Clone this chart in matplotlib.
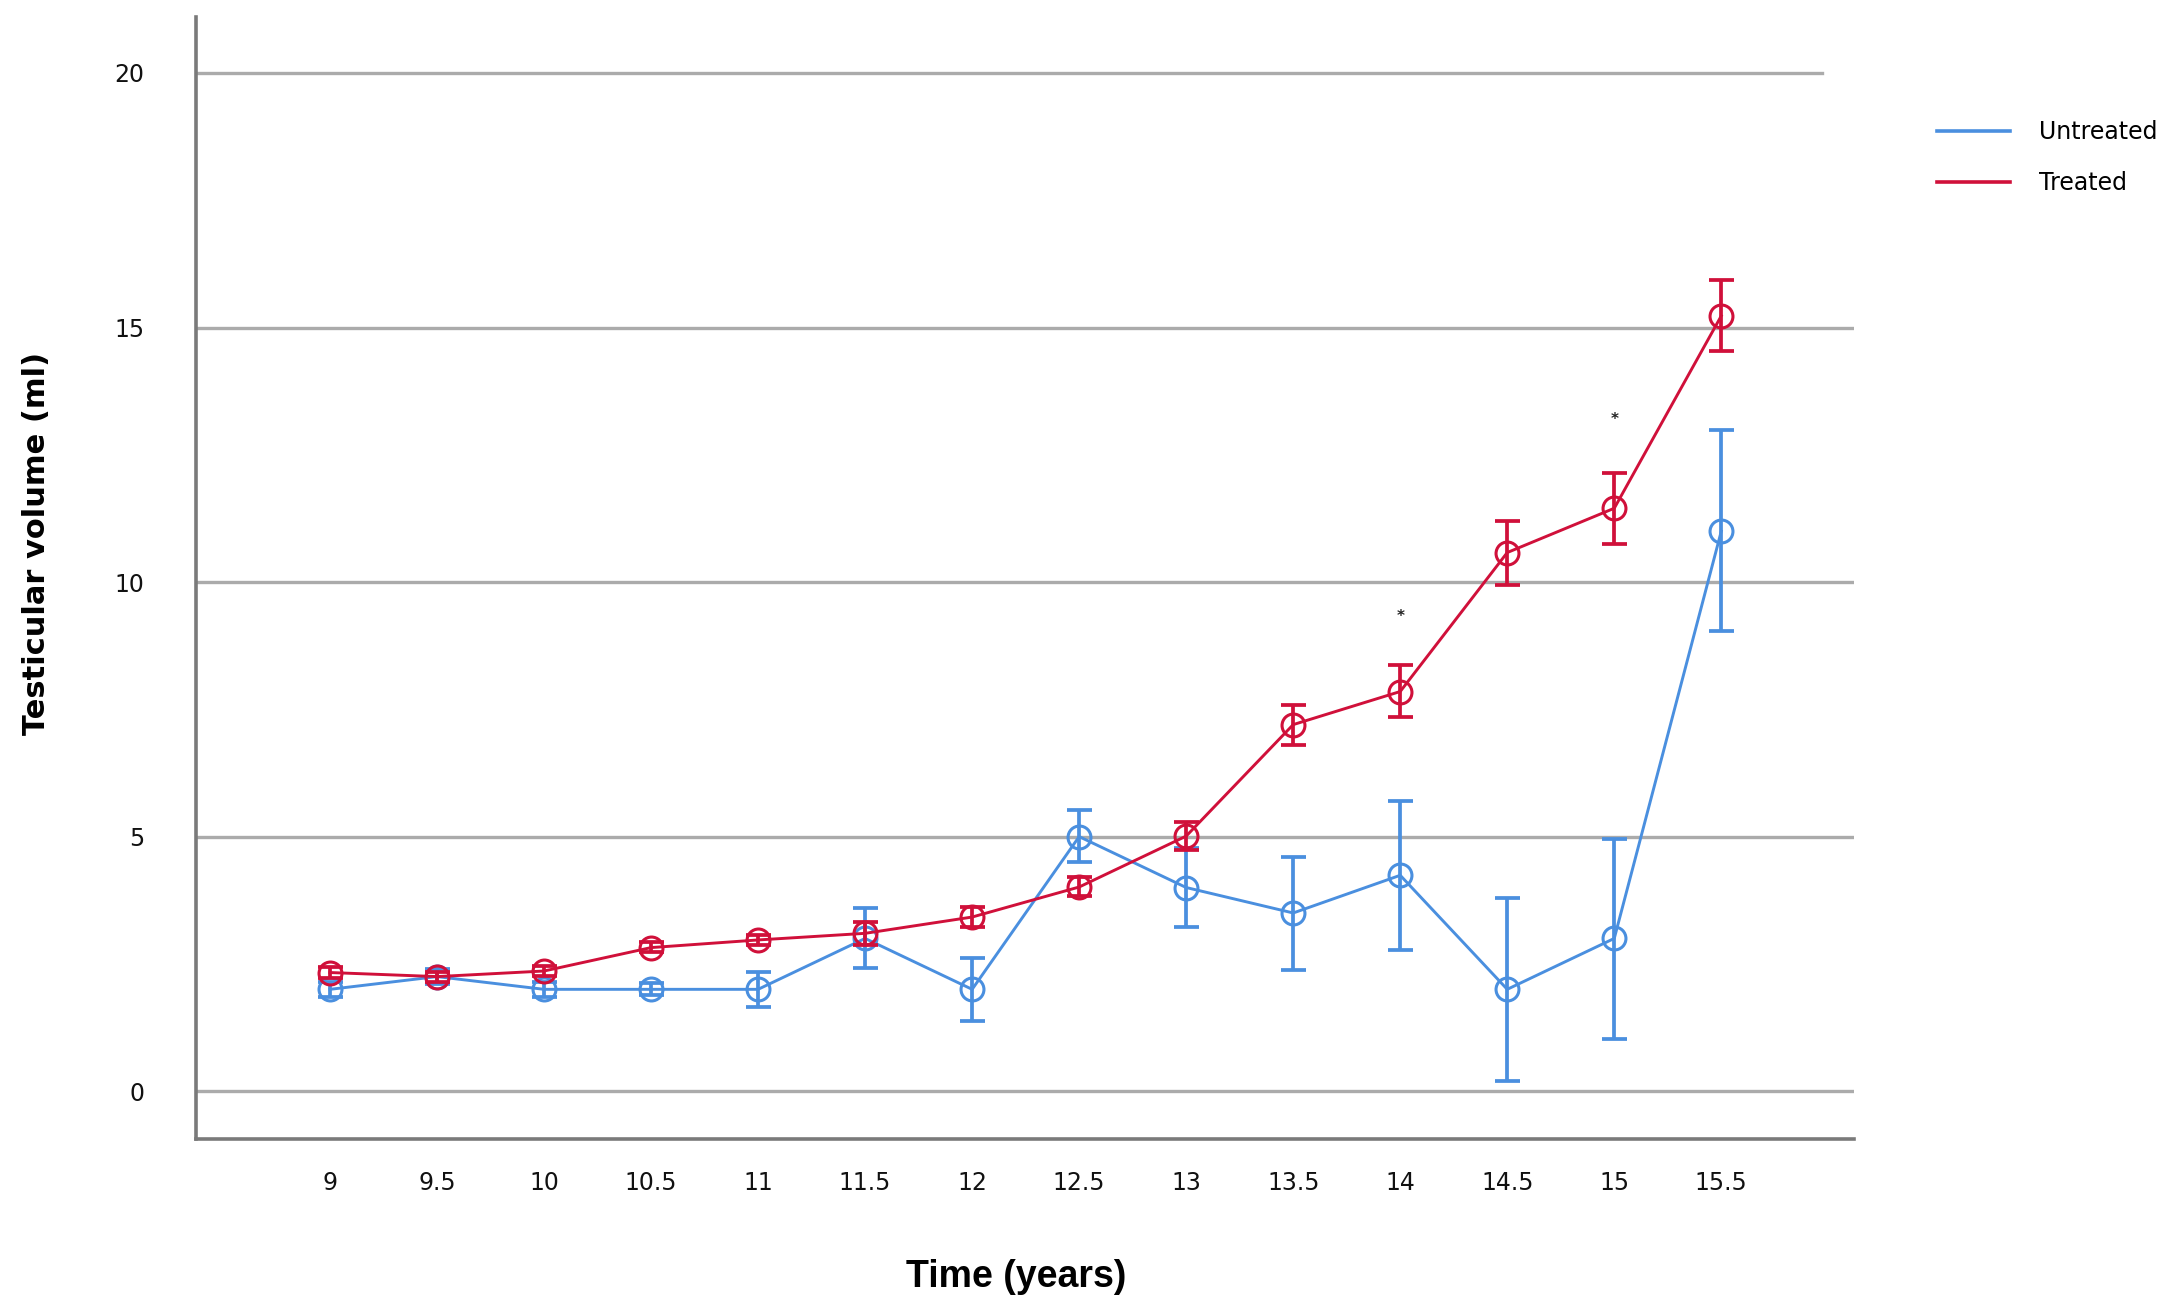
import matplotlib
matplotlib.use("Agg")
import matplotlib.pyplot as plt
from matplotlib.lines import Line2D

# ---- data ----
time_years = [9, 9.5, 10, 10.5, 11, 11.5, 12, 12.5, 13, 13.5, 14, 14.5, 15, 15.5]
tick_labels = ["9", "9.5", "10", "10.5", "11", "11.5", "12", "12.5", "13", "13.5",
               "14", "14.5", "15", "15.5"]

untreated_mean = [2.0, 2.25, 2.0, 2.0, 2.0, 3.0, 2.0, 5.0, 4.0, 3.5, 4.24, 2.0, 3.0, 11.0]
untreated_low = [1.85, 2.1, 1.85, 1.88, 1.65, 2.42, 1.38, 4.5, 3.22, 2.38, 2.78, 0.19, 1.03, 9.03]
untreated_high = [2.15, 2.4, 2.15, 2.12, 2.34, 3.59, 2.61, 5.52, 4.78, 4.6, 5.7, 3.8, 4.96, 12.99]

treated_mean = [2.33, 2.25, 2.36, 2.82, 2.97, 3.10, 3.42, 4.01, 5.01, 7.20, 7.85, 10.58, 11.45, 15.23]
treated_low = [2.23, 2.15, 2.26, 2.74, 2.87, 2.88, 3.23, 3.83, 4.73, 6.80, 7.34, 9.94, 10.75, 14.53]
treated_high = [2.43, 2.35, 2.46, 2.92, 3.07, 3.32, 3.62, 4.20, 5.29, 7.59, 8.37, 11.19, 12.14, 15.94]

star_x = [14, 15]
star_y = [9.32, 13.19]

y_ticks = [0, 5, 10, 15, 20]

BLUE = "#4a8fdf"
RED = "#d0103a"
GRID = "#ababab"
SPINE = "#7a7a7a"

fig = plt.figure(figsize=(21.65, 13.1), dpi=100)
ax = fig.add_axes([196 / 2165, 1 - 1139 / 1310, (1854 - 196) / 2165, (1139 - 17) / 1310])

ax.set_xlim(8.374, 16.12)
ax.set_ylim(-0.94, 21.1)

# gridlines
for yt in y_ticks:
    xmax = 0.981 if yt == 20 else 1.0
    ax.axhline(yt, xmin=0, xmax=xmax, color=GRID, lw=2.4, zorder=0)


def draw(mean, low, high, color, z):
    yerr = [[m - l for m, l in zip(mean, low)], [h - m for m, h in zip(mean, high)]]
    ax.plot(time_years, mean, color=color, lw=2.1, zorder=z)
    ax.errorbar(time_years, mean, yerr=yerr, fmt="none", ecolor=color,
                elinewidth=2.7, capsize=9, capthick=2.7, zorder=z + 0.1)
    ax.plot(time_years, mean, linestyle="none", marker="o", markersize=16.5,
            markerfacecolor="none", markeredgecolor=color, markeredgewidth=2.2,
            zorder=z + 0.2)


draw(untreated_mean, untreated_low, untreated_high, BLUE, 2)
draw(treated_mean, treated_low, treated_high, RED, 3)

for sx, sy in zip(star_x, star_y):
    ax.text(sx, sy, "*", ha="center", va="center", fontsize=11, color="#222222",
            fontweight="bold")

ax.set_xticks(time_years)
ax.set_xticklabels(tick_labels)
ax.set_yticks(y_ticks)
ax.tick_params(axis="both", length=0, labelsize=17, colors="#111111")
ax.tick_params(axis="x", pad=23)
ax.tick_params(axis="y", pad=37)

for side in ["top", "right"]:
    ax.spines[side].set_visible(False)
for side in ["left", "bottom"]:
    ax.spines[side].set_color(SPINE)
    ax.spines[side].set_linewidth(2.6)

ax.set_xlabel("Time (years)", fontsize=27, fontweight="bold",
              family=["Liberation Sans", "DejaVu Sans"])
ax.xaxis.set_label_coords(0.4946, -0.107)
ax.set_ylabel("Testicular volume (ml)", fontsize=22, fontweight="bold")
ax.yaxis.set_label_coords(-0.0875, 0.531)

handles = [Line2D([], [], color=BLUE, lw=2.6), Line2D([], [], color=RED, lw=2.6)]
fig.legend(handles, ["Untreated", "Treated"], loc="upper left",
           bbox_to_anchor=(1937 / 2165, 1 - 120 / 1310), frameon=False,
           fontsize=17, handlelength=3.1, handletextpad=1.2, labelspacing=1.16,
           borderpad=0, borderaxespad=0)

fig.savefig("out.png", dpi=100)
